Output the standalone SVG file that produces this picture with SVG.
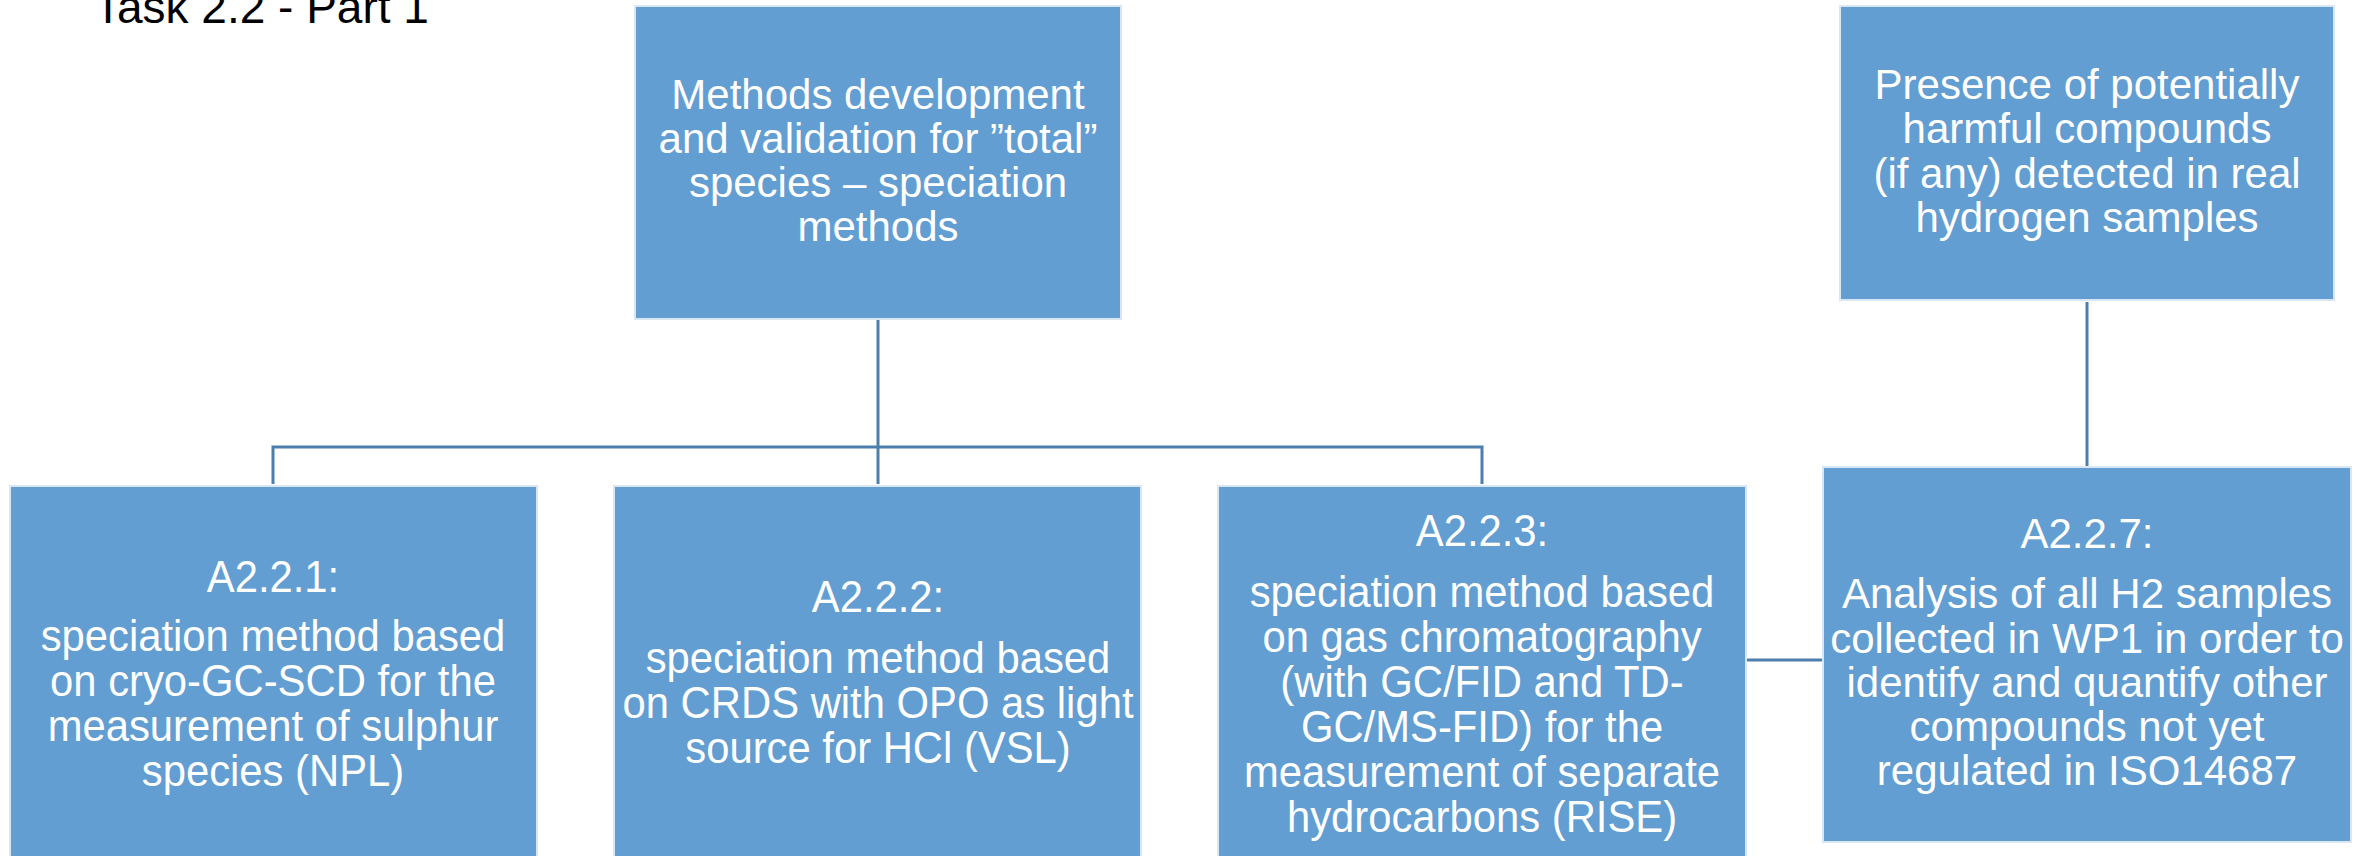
<svg xmlns="http://www.w3.org/2000/svg" width="2374" height="856" viewBox="0 0 2374 856">
<style>
.box{fill:#629ed2;stroke:#d9e7f4;stroke-width:2}
.t{font-family:"Liberation Sans",Arial,sans-serif;font-size:42px;fill:#ffffff;text-anchor:middle}
.n{font-family:"Liberation Sans",Arial,sans-serif;font-size:44px;fill:#ffffff;text-anchor:middle}
.title{font-family:"Liberation Sans",Arial,sans-serif;font-size:46px;fill:#000000}
.c{stroke:#4c7eae;stroke-width:3;fill:none}
</style>
<rect width="2374" height="856" fill="#ffffff"/>
<text class="title" x="94" y="23">Task 2.2 - Part 1</text>
<g id="connectors">
<path class="c" d="M878 320 V484"/>
<path class="c" d="M273 484 V447 H1482 V484"/>
<path class="c" d="M2087 302 V466"/>
<path class="c" d="M1746 660 H1823"/>
</g>
<g id="n_top">
<rect class="box" x="635" y="6" width="486" height="313"/>
<text class="t" x="878" y="109">Methods development</text>
<text class="t" x="878" y="153">and validation for ”total”</text>
<text class="t" x="878" y="197">species – speciation</text>
<text class="t" x="878" y="241">methods</text>
</g>
<g id="n_presence">
<rect class="box" x="1840" y="6" width="494" height="294"/>
<text class="t" x="2087" y="99">Presence of potentially</text>
<text class="t" x="2087" y="143">harmful compounds</text>
<text class="t" x="2087" y="188">(if any) detected in real</text>
<text class="t" x="2087" y="232">hydrogen samples</text>
</g>
<g id="n_a221">
<rect class="box" x="10" y="486" width="527" height="380"/>
<g transform="translate(273,0) scale(0.95,1)">
<text class="n" x="0" y="592">A2.2.1:</text>
<text class="n" x="0" y="651">speciation method based</text>
<text class="n" x="0" y="696">on cryo-GC-SCD for the</text>
<text class="n" x="0" y="741">measurement of sulphur</text>
<text class="n" x="0" y="786">species (NPL)</text>
</g>
</g>
<g id="n_a222">
<rect class="box" x="614" y="486" width="527" height="380"/>
<g transform="translate(878,0) scale(0.95,1)">
<text class="n" x="0" y="612">A2.2.2:</text>
<text class="n" x="0" y="673">speciation method based</text>
<text class="n" x="0" y="718">on CRDS with OPO as light</text>
<text class="n" x="0" y="763">source for HCl (VSL)</text>
</g>
</g>
<g id="n_a223">
<rect class="box" x="1218" y="486" width="528" height="380"/>
<g transform="translate(1482,0) scale(0.95,1)">
<text class="n" x="0" y="546">A2.2.3:</text>
<text class="n" x="0" y="607">speciation method based</text>
<text class="n" x="0" y="652">on gas chromatography</text>
<text class="n" x="0" y="697">(with GC/FID and TD-</text>
<text class="n" x="0" y="742">GC/MS-FID) for the</text>
<text class="n" x="0" y="787">measurement of separate</text>
<text class="n" x="0" y="832">hydrocarbons (RISE)</text>
</g>
</g>
<g id="n_a227">
<rect class="box" x="1823" y="467" width="528" height="375"/>
<text class="t" x="2087" y="548">A2.2.7:</text>
<text class="t" x="2087" y="608">Analysis of all H2 samples</text>
<text class="t" x="2087" y="653">collected in WP1 in order to</text>
<text class="t" x="2087" y="697">identify and quantify other</text>
<text class="t" x="2087" y="741">compounds not yet</text>
<text class="t" x="2087" y="785">regulated in ISO14687</text>
</g>
</svg>
